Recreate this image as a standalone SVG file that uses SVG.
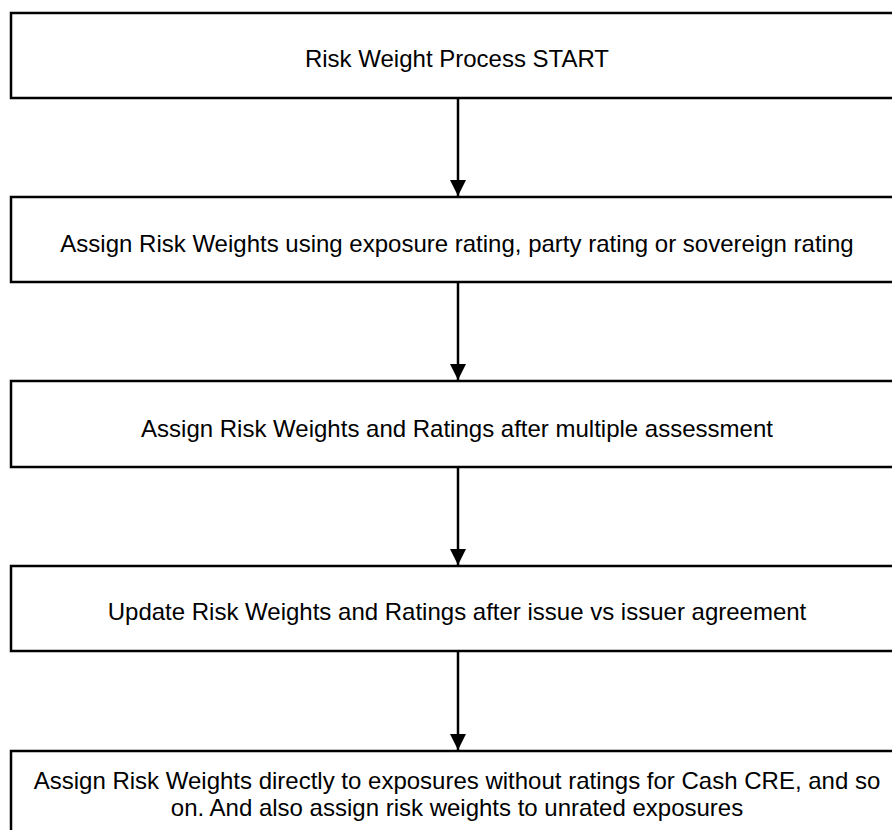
<svg xmlns="http://www.w3.org/2000/svg" width="892" height="830" viewBox="0 0 892 830">
  <style>
    .box { fill: #ffffff; stroke: #000000; stroke-width: 2.5; }
    .label { font-family: "Liberation Sans", Arial, sans-serif; font-size: 24px; fill: #000000; text-anchor: middle; }
    .wire { stroke: #000000; stroke-width: 2.5; fill: none; }
  </style>
  <defs>
    <marker id="head" viewBox="0 0 16 16" refX="16" refY="8" markerWidth="16" markerHeight="16" markerUnits="userSpaceOnUse" orient="auto">
      <path d="M0,0 L16,8 L0,16 Z" fill="#000000"/>
    </marker>
  </defs>
  <rect width="892" height="830" fill="#ffffff"/>

  <g id="start">
    <rect class="box" x="11" y="13" width="900" height="85"/>
    <text class="label" x="457" y="67">Risk Weight Process START</text>
  </g>
  <g id="assign-ratings">
    <rect class="box" x="11" y="197" width="900" height="85"/>
    <text class="label" x="457" y="252">Assign Risk Weights using exposure rating, party rating or sovereign rating</text>
  </g>
  <g id="multiple-assessment">
    <rect class="box" x="11" y="381" width="900" height="86"/>
    <text class="label" x="457" y="437">Assign Risk Weights and Ratings after multiple assessment</text>
  </g>
  <g id="issue-vs-issuer">
    <rect class="box" x="11" y="566" width="900" height="85"/>
    <text class="label" x="457" y="620">Update Risk Weights and Ratings after issue vs issuer agreement</text>
  </g>
  <g id="unrated">
    <rect class="box" x="11" y="751" width="900" height="120"/>
    <text class="label" x="457" y="789">Assign Risk Weights directly to exposures without ratings for Cash CRE, and so</text>
    <text class="label" x="457" y="816">on. And also assign risk weights to unrated exposures</text>
  </g>

  <g id="connectors">
    <line class="wire" x1="458" y1="98" x2="458" y2="196" marker-end="url(#head)"/>
    <line class="wire" x1="458" y1="282" x2="458" y2="380" marker-end="url(#head)"/>
    <line class="wire" x1="458" y1="467" x2="458" y2="565" marker-end="url(#head)"/>
    <line class="wire" x1="458" y1="651" x2="458" y2="750" marker-end="url(#head)"/>
  </g>
</svg>
